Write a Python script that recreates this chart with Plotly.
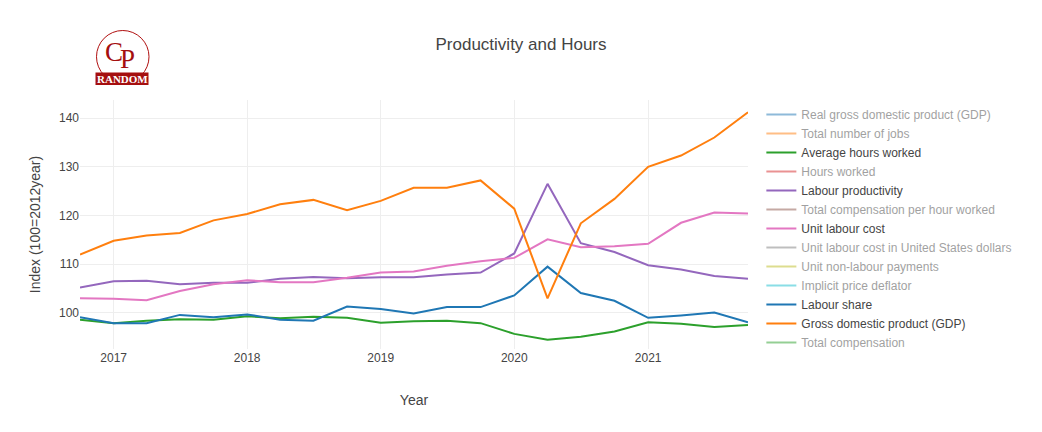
import plotly.graph_objects as go

dates = ["2016-10-01", "2017-01-01", "2017-04-01", "2017-07-01", "2017-10-01",
         "2018-01-01", "2018-04-01", "2018-07-01", "2018-10-01",
         "2019-01-01", "2019-04-01", "2019-07-01", "2019-10-01",
         "2020-01-01", "2020-04-01", "2020-07-01", "2020-10-01",
         "2021-01-01", "2021-04-01", "2021-07-01", "2021-10-01"]

avg_hours = [98.6, 97.9, 98.4, 98.7, 98.6, 99.3, 98.9, 99.2, 99.0, 98.0, 98.3,
             98.4, 97.9, 95.7, 94.5, 95.1, 96.2, 98.1, 97.8, 97.1, 97.5]
labour_prod = [105.2, 106.5, 106.6, 105.9, 106.2, 106.2, 107.0, 107.4, 107.1, 107.3, 107.3,
               107.9, 108.3, 112.2, 126.5, 114.3, 112.5, 109.8, 108.9, 107.6, 107.0]
unit_labour_cost = [103.0, 102.9, 102.6, 104.5, 105.9, 106.7, 106.3, 106.3, 107.2, 108.3, 108.5,
                    109.7, 110.6, 111.3, 115.1, 113.5, 113.7, 114.2, 118.5, 120.6, 120.4]
labour_share = [99.1, 97.9, 97.9, 99.6, 99.1, 99.7, 98.6, 98.4, 101.3, 100.8, 99.9,
                101.2, 101.2, 103.6, 109.5, 104.1, 102.5, 99.0, 99.5, 100.1, 98.1]
gdp = [112.0, 114.8, 115.9, 116.4, 119.0, 120.3, 122.3, 123.2, 121.1, 123.0, 125.7,
       125.7, 127.2, 121.4, 103.0, 118.4, 123.4, 130.0, 132.3, 136.0, 141.2]

series_names = [
    "Real gross domestic product (GDP)",
    "Total number of jobs",
    "Average hours worked",
    "Hours worked",
    "Labour productivity",
    "Total compensation per hour worked",
    "Unit labour cost",
    "Unit labour cost in United States dollars",
    "Unit non-labour payments",
    "Implicit price deflator",
    "Labour share",
    "Gross domestic product (GDP)",
    "Total compensation",
]
shown = {
    "Average hours worked": avg_hours,
    "Labour productivity": labour_prod,
    "Unit labour cost": unit_labour_cost,
    "Labour share": labour_share,
    "Gross domestic product (GDP)": gdp,
}
colors = ["#1f77b4", "#ff7f0e", "#2ca02c", "#d62728", "#9467bd", "#8c564b",
          "#e377c2", "#7f7f7f", "#bcbd22", "#17becf"]

fig = go.Figure()
for i, name in enumerate(series_names):
    c = colors[i % len(colors)]
    if name in shown:
        fig.add_trace(go.Scatter(x=dates, y=shown[name], mode="lines", name=name,
                                 line=dict(color=c, width=2)))
    else:
        # hidden series (values not visible in the chart)
        fig.add_trace(go.Scatter(x=dates, y=[None] * len(dates), mode="lines", name=name,
                                 line=dict(color=c, width=2), visible="legendonly"))

font_family = "Liberation Sans, Arial, sans-serif"
fig.update_layout(
    width=1042, height=432,
    margin=dict(l=72, r=302, t=92, b=91),
    paper_bgcolor="white", plot_bgcolor="white",
    font=dict(family=font_family, size=12, color="#444"),
    title=dict(text="Productivity and Hours", x=513 / 1042, xref="container", xanchor="center",
               y=1 - 36 / 432, yanchor="middle", font=dict(size=17, color="#444")),
    xaxis=dict(title=dict(text="Year", font=dict(size=14), standoff=31), automargin=True,
               showgrid=True, gridcolor="#eee", zeroline=False, showline=False, ticks=""),
    yaxis=dict(title=dict(text="Index (100=2012year)", font=dict(size=14)), range=[92.6, 143.7],
               showgrid=True, gridcolor="#eee", zeroline=False, showline=False, dtick=10),
    legend=dict(font=dict(size=12), maxheight=320),
    showlegend=True,
)

# Logo (drawn with shapes and text); coordinates measured in page pixels
W, H, L, T = 668.0, 249.0, 80.0, 100.0
def px(x):
    return (x - L) / W
def py(y):
    return (T + H - y) / H

fig.add_shape(type="circle", xref="paper", yref="paper",
              x0=px(96.5), x1=px(149.0), y0=py(83), y1=py(30.5),
              line=dict(color="#b01010", width=1), fillcolor="white", layer="above")
fig.add_shape(type="rect", xref="paper", yref="paper",
              x0=px(95.5), x1=px(148.5), y0=py(85), y1=py(72.5),
              line=dict(width=0), fillcolor="#a50f0f", layer="above")
fig.add_annotation(x=px(114), y=py(52), xref="paper", yref="paper", text="C",
                   xanchor="center", yanchor="middle",
                   showarrow=False, font=dict(family="Liberation Serif, serif", size=27, color="#a50f0f"))
fig.add_annotation(x=px(127.5), y=py(59), xref="paper", yref="paper", text="P",
                   xanchor="center", yanchor="middle",
                   showarrow=False, font=dict(family="Liberation Serif, serif", size=27, color="#a50f0f"))
fig.add_annotation(x=px(122), y=py(79), xref="paper", yref="paper", text="<b>RANDOM</b>",
                   xanchor="center", yanchor="middle",
                   showarrow=False, font=dict(family="Liberation Serif, serif", size=11, color="white"))

fig.write_html("out.html")
